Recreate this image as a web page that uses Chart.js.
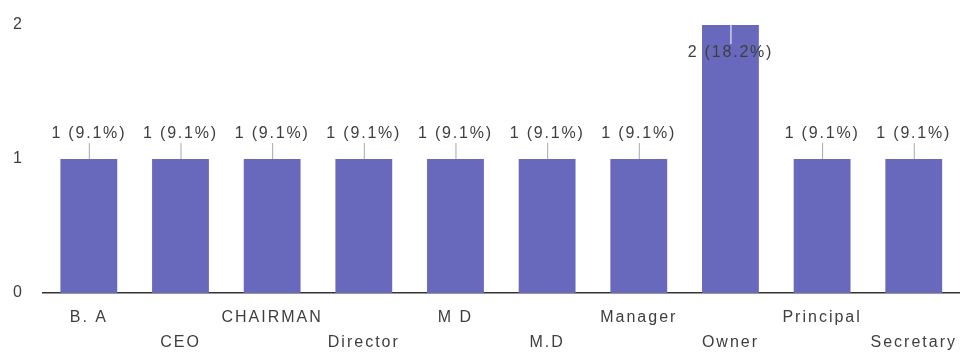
<!DOCTYPE html>
<html>
<head>
<meta charset="utf-8">
<script src="https://cdn.jsdelivr.net/npm/chart.js@4.4.1/dist/chart.umd.min.js"></script>
<style>
  html, body { margin: 0; padding: 0; background: #fff; }
  #wrap { width: 960px; height: 360px; }
</style>
</head>
<body>
<div id="wrap"><canvas id="roles-chart"></canvas></div>
<script>
// responses per role
const roles = ['B. A', 'CEO', 'CHAIRMAN', 'Director', 'M D', 'M.D', 'Manager', 'Owner', 'Principal', 'Secretary'];
const counts = [1, 1, 1, 1, 1, 1, 1, 2, 1, 1];
const yTicks = [0, 1, 2];

const total = counts.reduce((a, b) => a + b, 0);
const barColor = '#6868bc';
const textColor = '#3e3e3e';

// count + percent label above each bar, inside the bar for the tallest one
const barLabels = {
  id: 'barLabels',
  beforeDraw(chart) {
    chart.ctx.letterSpacing = '2px';
  },
  afterDatasetsDraw(chart) {
    const ctx = chart.ctx;
    const meta = chart.getDatasetMeta(0);
    const max = Math.max(...counts);
    ctx.save();
    ctx.letterSpacing = '1.8px';
    ctx.font = '16px Arial, "Liberation Sans", sans-serif';
    ctx.textAlign = 'center';
    ctx.textBaseline = 'middle';
    meta.data.forEach((bar, i) => {
      const v = counts[i];
      const text = `${v} (${(v / total * 100).toFixed(1)}%)`;
      if (v === max) {
        const ty = bar.y + 28;
        ctx.strokeStyle = '#ffffff';
        ctx.lineWidth = 1;
        ctx.beginPath();
        ctx.moveTo(bar.x + 0.5, bar.y);
        ctx.lineTo(bar.x + 0.5, ty - 9);
        ctx.stroke();
        ctx.fillStyle = textColor;
        ctx.fillText(text, bar.x, ty);
      } else {
        const ty = bar.y - 25;
        ctx.strokeStyle = '#a8a8a8';
        ctx.lineWidth = 1;
        ctx.beginPath();
        ctx.moveTo(bar.x + 0.5, ty + 9);
        ctx.lineTo(bar.x + 0.5, bar.y);
        ctx.stroke();
        ctx.fillStyle = textColor;
        ctx.fillText(text, bar.x, ty);
      }
    });
    ctx.restore();
  }
};

new Chart(document.getElementById('roles-chart').getContext('2d'), {
  type: 'bar',
  data: {
    labels: roles,
    datasets: [{
      data: counts,
      backgroundColor: barColor,
      categoryPercentage: 1,
      barPercentage: 0.62
    }]
  },
  options: {
    responsive: true,
    maintainAspectRatio: false,
    animation: false,
    layout: { padding: { top: 25, right: 0, bottom: 0, left: 0 } },
    plugins: {
      legend: { display: false },
      tooltip: { enabled: false }
    },
    scales: {
      x: {
        grid: { display: false, drawTicks: false },
        border: { display: true, color: '#333', width: 1.5 },
        afterFit: (axis) => { axis.height = 67; },
        ticks: {
          autoSkip: false,
          maxRotation: 0,
          padding: 12,
          color: textColor,
          font: { family: 'Arial, "Liberation Sans", sans-serif', size: 16, lineHeight: 1.5625 },
          // alternate labels drop to a second row
          callback: (value, i) => (i % 2 === 0 ? roles[i] : ['', roles[i]])
        }
      },
      y: {
        min: 0,
        max: 2,
        grid: { display: false, drawTicks: false },
        border: { display: false },
        afterFit: (axis) => {
          axis.width = 43;
          axis.paddingTop = 0;
          axis.paddingBottom = 0;
        },
        afterBuildTicks: (axis) => { axis.ticks = yTicks.map(v => ({ value: v })); },
        ticks: {
          padding: 19,
          color: textColor,
          font: { family: 'Arial, "Liberation Sans", sans-serif', size: 16 }
        }
      }
    }
  },
  plugins: [barLabels]
});
</script>
</body>
</html>
